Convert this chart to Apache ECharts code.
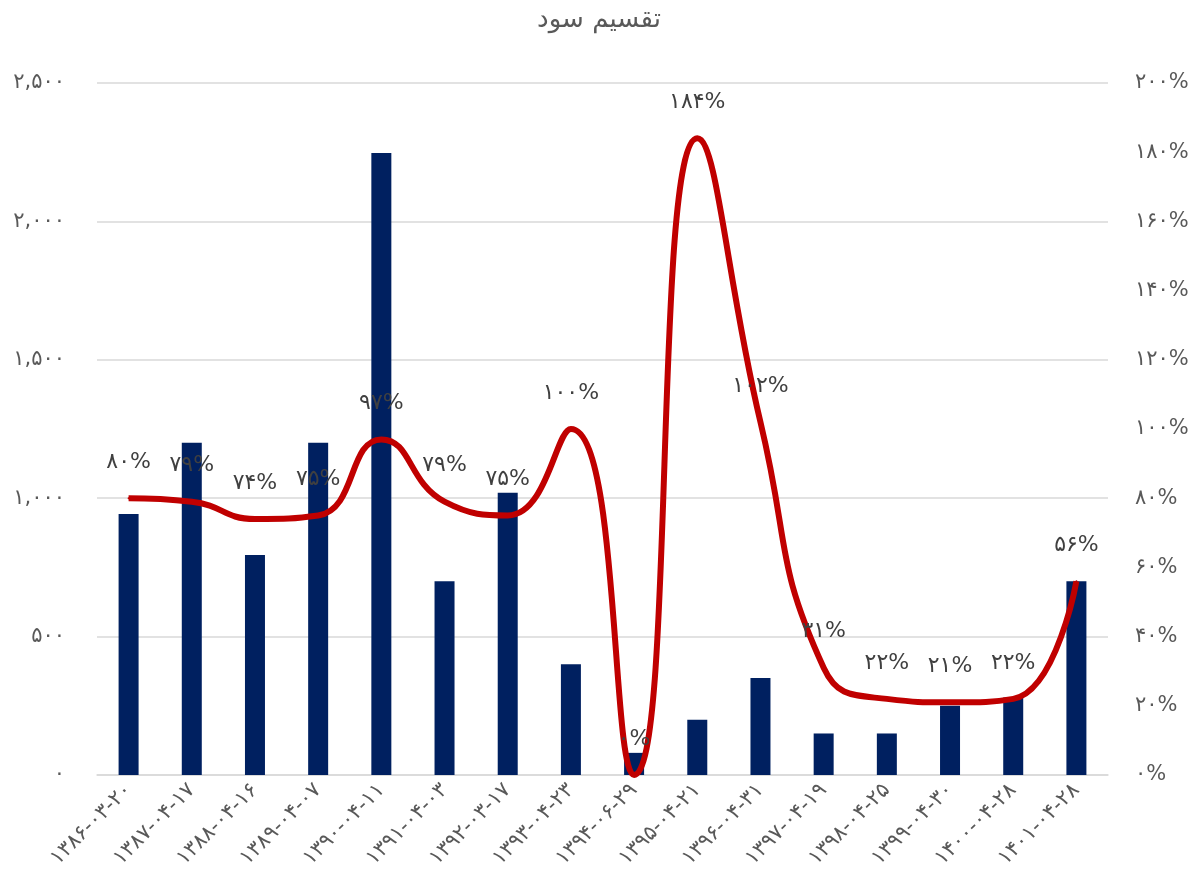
<!DOCTYPE html>
<html>
<head>
<meta charset="utf-8">
<script src="https://cdn.jsdelivr.net/npm/echarts@6/dist/echarts.min.js"></script>
<style>
html,body{margin:0;padding:0;background:#fff;}
#c{width:1198px;height:896px;}
</style>
</head>
<body>
<div id="c"></div>
<script>
const categories = ["۱۳۸۶-۰۳-۲۰","۱۳۸۷-۰۴-۱۷","۱۳۸۸-۰۴-۱۶","۱۳۸۹-۰۴-۰۷","۱۳۹۰-۰۴-۱۱","۱۳۹۱-۰۴-۰۳","۱۳۹۲-۰۳-۱۷","۱۳۹۳-۰۴-۲۳","۱۳۹۴-۰۶-۲۹","۱۳۹۵-۰۴-۲۱","۱۳۹۶-۰۴-۳۱","۱۳۹۷-۰۴-۱۹","۱۳۹۸-۰۴-۲۵","۱۳۹۹-۰۴-۳۰","۱۴۰۰-۰۴-۲۸","۱۴۰۱-۰۴-۲۸"];
const dividendValues = [943, 1200, 795, 1200, 2247, 700, 1020, 400, 80, 200, 350, 150, 150, 250, 280, 700];
const payoutRatio = [80, 79, 74, 75, 97, 79, 75, 100, 0, 184, 102, 31, 22, 21, 22, 56];
const title = "تقسیم سود";

const fa = s => String(s).replace(/\d/g, d => "۰۱۲۳۴۵۶۷۸۹"[d]);
const FONT = "DejaVu Sans";
const GREY = "#595959";

const chart = echarts.init(document.getElementById('c'));
chart.setOption({
  backgroundColor: '#fff',
  animation: false,
  textStyle: { fontFamily: FONT },
  title: {
    text: title, left: 'center', top: 2,
    textStyle: { fontFamily: FONT, fontSize: 26, fontWeight: 'normal', color: GREY }
  },
  grid: { left: 97, right: 90, top: 83, bottom: 121, containLabel: false },
  xAxis: {
    type: 'category', data: categories,
    axisLine: { lineStyle: { color: '#d9d9d9', width: 1.5 } },
    axisTick: { show: false },
    axisLabel: { rotate: 45, interval: 0, fontSize: 21, color: GREY, margin: 12, fontFamily: FONT }
  },
  yAxis: [
    {
      type: 'value', min: 0, max: 2500, interval: 500,
      axisLine: { show: false }, axisTick: { show: false },
      splitLine: { lineStyle: { color: '#d9d9d9', width: 1.5 } },
      axisLabel: {
        fontSize: 21, color: GREY, margin: 32, fontFamily: FONT,
        formatter: v => fa(v.toLocaleString('en-US'))
      }
    },
    {
      type: 'value', min: 0, max: 200, interval: 20,
      axisLine: { show: false }, axisTick: { show: false },
      splitLine: { show: false },
      axisLabel: {
        fontSize: 21, color: GREY, margin: 27, fontFamily: FONT,
        formatter: v => fa(v) + '%'
      }
    }
  ],
  series: [
    {
      type: 'bar', data: dividendValues, yAxisIndex: 0,
      barWidth: 20, itemStyle: { color: '#002060' }
    },
    {
      type: 'line', data: payoutRatio, yAxisIndex: 1,
      smooth: 0.5, showSymbol: true, symbol: 'circle', symbolSize: 2,
      itemStyle: { color: '#C00000' },
      lineStyle: { color: '#C00000', width: 6 },
      label: {
        show: true, position: 'top', distance: 24,
        fontSize: 22, color: '#404040', fontFamily: FONT,
        formatter: p => fa(p.value) + '%'
      },
      labelLayout: { hideOverlap: false },
      z: 3
    }
  ]
});
</script>
</body>
</html>
